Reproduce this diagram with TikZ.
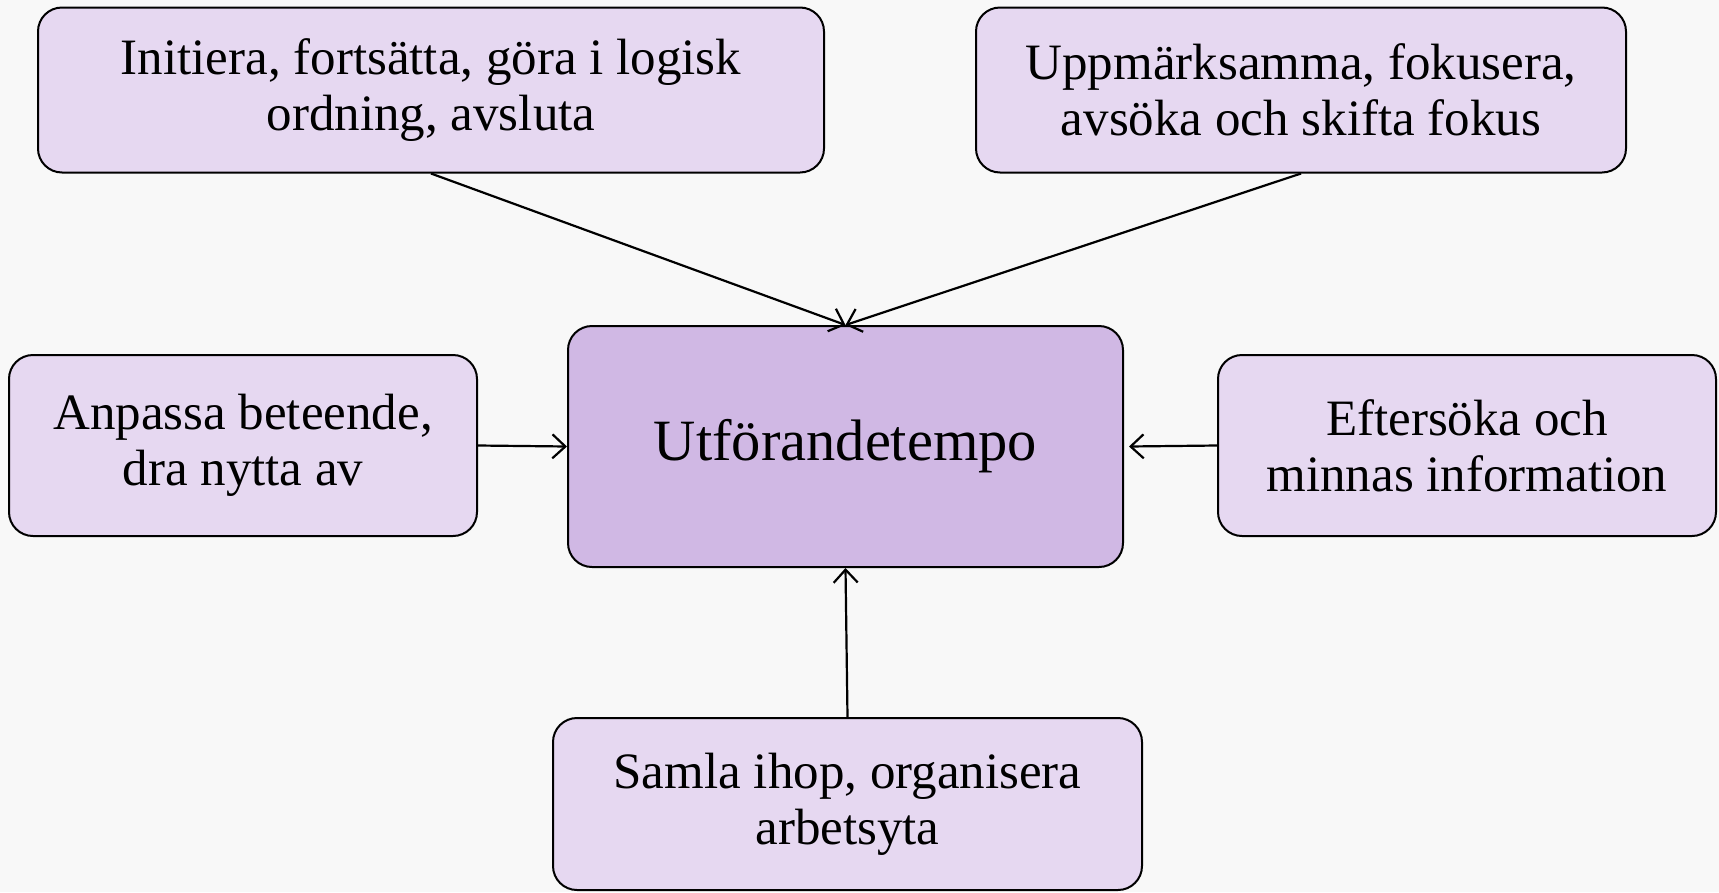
\documentclass[tikz,border=0pt]{standalone}
\usepackage{fontspec}
\setmainfont{Liberation Serif}
\usetikzlibrary{arrows.meta}
\definecolor{bgcol}{HTML}{F8F8F8}
\definecolor{boxcol}{HTML}{E6D8F1}
\definecolor{midcol}{HTML}{D0B8E4}
\tikzset{box/.style={draw,line width=2pt,rounded corners=24pt,fill=boxcol,align=center,inner sep=0pt,font=\fontsize{51}{56}\selectfont},
  mid box/.style={box,fill=midcol,font=\fontsize{58.5}{66}\selectfont},
  conn/.style={line width=2.2pt,-{Straight Barb[length=13pt,width=24pt,line width=2.2pt]}}}

\begin{document}
\begin{tikzpicture}[x=1pt,y=-1pt]
    \fill[bgcol] (0,0) rectangle (1719,892);
    \useasboundingbox (0,0) rectangle (1719,892);

    \node[box, minimum width=786pt, minimum height=165pt] at (431, 90)   (init)  {Initiera, fortsätta, göra i logisk\\ordning, avsluta};
    \node[box, minimum width=650pt, minimum height=165pt] at (1301, 90)  (focus) {Uppmärksamma, fokusera,\\avsöka och skifta fokus};
    \node[mid box, minimum width=555pt, minimum height=241pt] at (845.5, 446.5) (tempo) {Utförandetempo};
    \node[box, minimum width=468pt, minimum height=181pt] at (243, 445.5)  (adapt) {Anpassa beteende,\\dra nytta av};
    \node[box, minimum width=498pt, minimum height=181pt] at (1467, 445.5) (recall) {Eftersöka och\\minnas information};
    \node[box, minimum width=589pt, minimum height=172pt] at (847.5, 804) (gather) {Samla ihop, organisera\\arbetsyta};

    \draw[conn] (init.south) -- (tempo.north);
    \draw[conn] (focus.south) -- (tempo.north);
    \draw[conn] (adapt.east) -- (tempo.west);
    \draw[conn] (recall.west) -- ([xshift=5pt]tempo.east);
    \draw[conn] (gather.north) -- (tempo.south);
\end{tikzpicture}
\end{document}
